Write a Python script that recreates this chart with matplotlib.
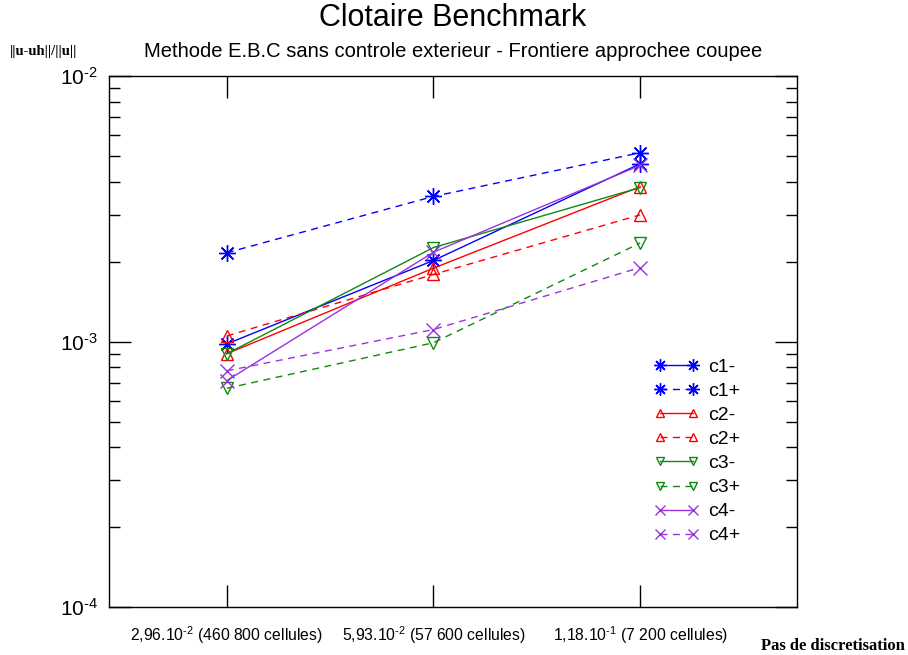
import matplotlib
matplotlib.use("Agg")
import matplotlib.pyplot as plt
from matplotlib.ticker import LogLocator, NullFormatter, FuncFormatter
import math

plt.rcParams['font.family'] = ['Liberation Sans', 'DejaVu Sans']
plt.rcParams['mathtext.fontset'] = 'custom'
plt.rcParams['mathtext.rm'] = 'Liberation Sans'
plt.rcParams['mathtext.it'] = 'Liberation Sans'
plt.rcParams['mathtext.default'] = 'regular'
plt.rcParams['axes.unicode_minus'] = False

x_pos = [1, 2, 3]
tick_labels = [r"2,96.10$^{\text{-2}}$ (460 800 cellules)",
               r"5,93.10$^{\text{-2}}$ (57 600 cellules)",
               r"1,18.10$^{\text{-1}}$ (7 200 cellules)"]

series_names = ["c1-", "c1+", "c2-", "c2+", "c3-", "c3+", "c4-", "c4+"]
c1_minus = [0.00098, 0.00202, 0.00467]
c1_plus = [0.00216, 0.00352, 0.00514]
c2_minus = [0.00090, 0.00189, 0.00383]
c2_plus = [0.00105, 0.00179, 0.00300]
c3_minus = [0.00090, 0.00226, 0.00380]
c3_plus = [0.000667, 0.00099, 0.00235]
c4_minus = [0.000713, 0.00217, 0.00461]
c4_plus = [0.000776, 0.00111, 0.00190]

values = [c1_minus, c1_plus, c2_minus, c2_plus, c3_minus, c3_plus, c4_minus, c4_plus]
colors = ['#0000ff', '#0000ff', '#ff0000', '#ff0000', '#118811', '#118811', '#9933dd', '#9933dd']
styles = ['-', (0, (5, 4)), '-', (0, (5, 4)), '-', (0, (5, 4)), '-', (0, (5, 4))]
markers = [(8, 2, 0), (8, 2, 0), '^', '^', 'v', 'v', 'x', 'x']
msizes = [12, 12, 8, 8, 8, 8, 10, 10]

fig = plt.figure(figsize=(9.08, 6.55), dpi=100)
ax = fig.add_axes([0.120, 0.073, 0.758, 0.811])

for name, v, c, ls, m, ms in zip(series_names, values, colors, styles, markers, msizes):
    ax.plot(x_pos, v, color=c, linestyle=ls, marker=m, markersize=ms,
            markerfacecolor='none', markeredgecolor=c, markeredgewidth=1.0,
            linewidth=1.0, label=name)


def log_fmt(val, pos):
    e = int(round(math.log10(val)))
    return r"10$^{\text{%d}}$" % e


ax.set_yscale('log')
ax.set_ylim(1e-4, 1e-2)
ax.set_xlim(0.43, 3.76)
ax.set_xticks(x_pos)
ax.set_xticklabels(tick_labels, fontsize=11.3)
ax.yaxis.set_major_locator(LogLocator(base=10, numticks=5))
ax.yaxis.set_major_formatter(FuncFormatter(log_fmt))
ax.yaxis.set_minor_locator(LogLocator(base=10, subs=range(2, 10), numticks=20))
ax.yaxis.set_minor_formatter(NullFormatter())
ax.tick_params(axis='y', which='major', direction='in', length=16, width=1,
               left=True, right=True, labelsize=15, pad=8)
ax.tick_params(axis='y', which='minor', direction='in', length=8, width=1,
               left=True, right=True)
ax.tick_params(axis='x', which='major', direction='in', length=16, width=1,
               top=True, bottom=True, pad=12)
ax.tick_params(axis='x', which='minor', bottom=False, top=False)
for s in ax.spines.values():
    s.set_linewidth(1.0)

leg = ax.legend(loc='upper left', bbox_to_anchor=(0.792, 0.468), frameon=False,
                numpoints=2, fontsize=14, handlelength=2.3, labelspacing=0.33,
                handletextpad=0.5, borderaxespad=0, borderpad=0, markerscale=0.75)

fig.text(0.499, 0.972, "Clotaire Benchmark", ha='center', va='center', fontsize=22)
fig.text(0.499, 0.922, "Methode E.B.C sans controle exterieur - Frontiere approchee coupee",
         ha='center', va='center', fontsize=14.5)
fig.text(0.011, 0.921, "||u-uh||/||u||", ha='left', va='center', fontsize=10.5,
         family=['Liberation Serif', 'DejaVu Serif'], fontweight='bold')
fig.text(0.997, 0.013, "Pas de discretisation", ha='right', va='center', fontsize=12,
         family=['Liberation Serif', 'DejaVu Serif'], fontweight='bold')

fig.savefig("out.png", dpi=100)
